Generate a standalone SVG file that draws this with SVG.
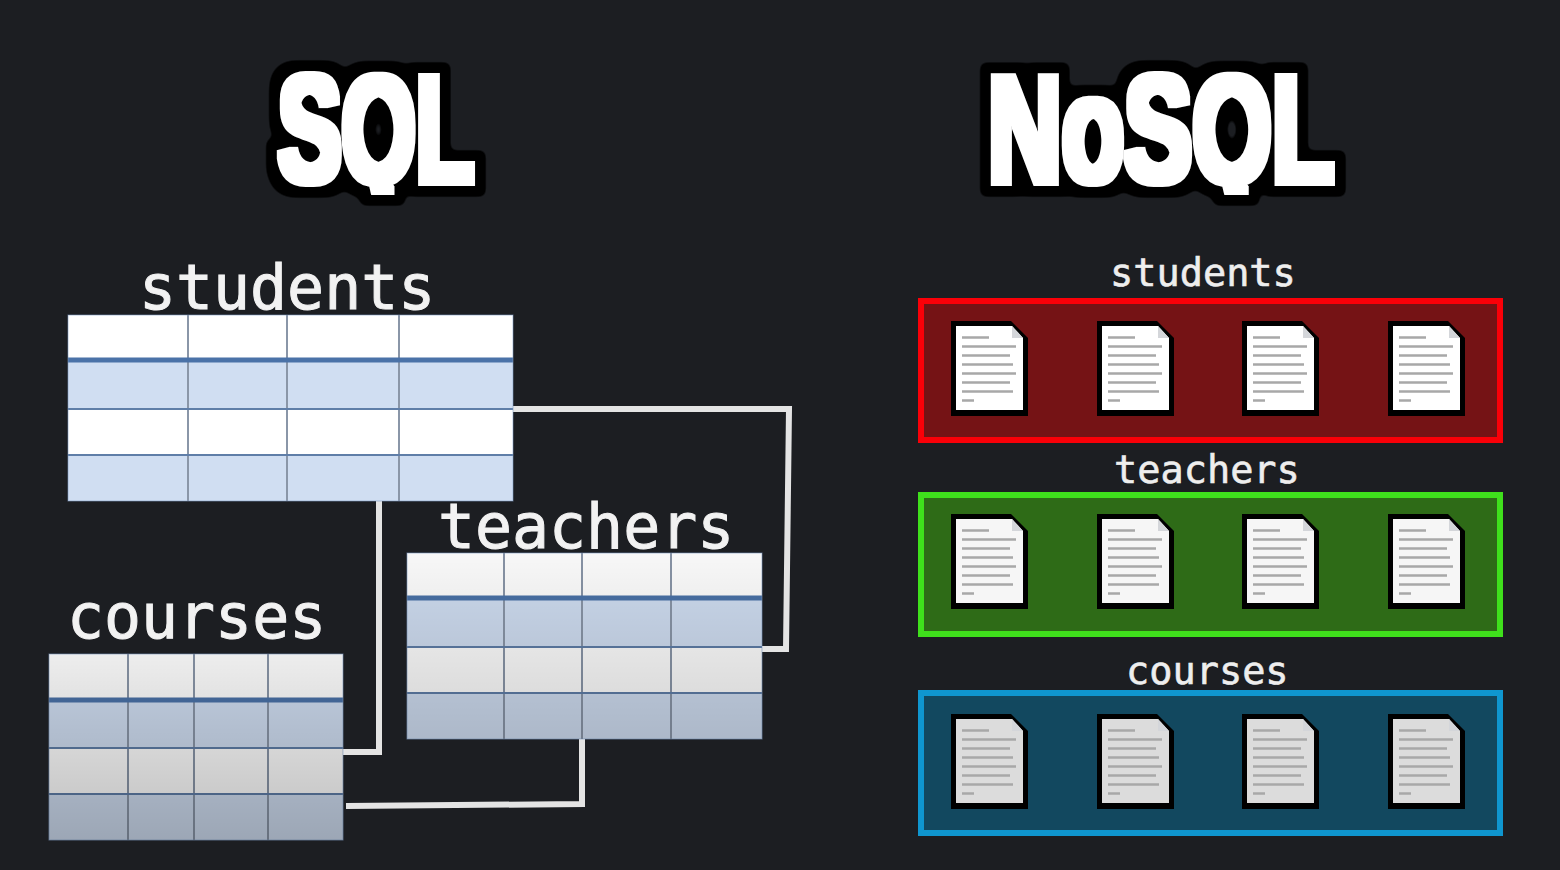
<svg xmlns="http://www.w3.org/2000/svg" xmlns:xlink="http://www.w3.org/1999/xlink" width="1560" height="870" viewBox="0 0 1560 870">
<style>
.title{font-family:"Liberation Sans Narrow","Liberation Sans",sans-serif;font-weight:700;font-size:152px;fill:#fff;clip-path:url(#tail)}
.titlegroup{filter:url(#outline)}
.big{font-family:"DejaVu Sans Mono","Liberation Mono",monospace;font-size:61.500px;fill:#f2f2f2;stroke:#f2f2f2;stroke-width:1}
.small{font-family:"DejaVu Sans Mono","Liberation Mono",monospace;font-size:38.600px;fill:#eee;stroke:#eee;stroke-width:.6}
.wire{fill:none;stroke:#e4e4e4;stroke-width:6}
.edge{fill:none;stroke:#7f9cc6;stroke-width:1;stroke-opacity:.6}
.thick{stroke:#4a72a8;stroke-width:5}
.thin{stroke:#5f7ea8;stroke-width:2}
.vline{stroke:#8a96a8;stroke-width:2}
.line{stroke:#a8a8a8;stroke-width:2.500}
</style>
<defs>
<clipPath id="tail" clipPathUnits="userSpaceOnUse"><rect x="0" y="0" width="1560" height="191"/></clipPath>
<filter id="outline" filterUnits="userSpaceOnUse" x="220" y="20" width="1180" height="220" color-interpolation-filters="sRGB">
<feMorphology in="SourceAlpha" operator="dilate" radius="4" result="fat"/>
<feMorphology in="SourceAlpha" operator="dilate" radius="14" result="wide"/>
<feGaussianBlur in="wide" stdDeviation="3.500"/>
<feComponentTransfer result="soft"><feFuncA type="linear" slope="6" intercept="-2"/></feComponentTransfer>
<feFlood flood-color="#000"/><feComposite in2="soft" operator="in" result="black"/>
<feFlood flood-color="#fff"/><feComposite in2="fat" operator="in" result="white"/>
<feMerge><feMergeNode in="black"/><feMergeNode in="white"/></feMerge>
</filter>
<linearGradient id="tdim" x1="0" y1="0" x2="0" y2="1"><stop offset="0" stop-color="#000" stop-opacity=".03"/><stop offset="1" stop-color="#000" stop-opacity=".17"/></linearGradient>
<linearGradient id="cdim" x1="0" y1="0" x2="0" y2="1"><stop offset="0" stop-color="#000" stop-opacity=".07"/><stop offset="1" stop-color="#000" stop-opacity=".25"/></linearGradient>
<g id="doc">
<path d="M951 321H1011L1028 338V416H951Z" fill="#000"/>
<path d="M956 326H1012L1023 338V410H956Z"/>
<path d="M1012 326L1023 338H1012Z" fill="#d4d6da"/>
<path class="line" d="M962 337.500H989M962 346.500H1016M962 355.500H1010M962 364.500H1013M962 373.500H1016M962 382.500H1010M962 391.500H1013M962 400.500H974"/>
</g>
</defs>
<rect width="1560" height="870" fill="#1c1e22"/>

<g id="title-sql" class="titlegroup"><text class="title" x="278" y="182" textLength="196" lengthAdjust="spacingAndGlyphs">SQL</text></g>
<g id="title-nosql" class="titlegroup"><text class="title" x="988" y="182" textLength="346" lengthAdjust="spacingAndGlyphs">NoSQL</text></g>

<g id="connectors">
<path class="wire" d="M513 409H789L786 649H762"/>
<path class="wire" d="M379 501V752H343"/>
<path class="wire" d="M582 739V804L346 806"/>
</g>

<g id="table-students">
<text class="big" x="139" y="309">students</text>
<rect x="68" y="315" width="445" height="45" fill="#fff"/>
<rect x="68" y="360" width="445" height="49" fill="#d0def2"/>
<rect x="68" y="409" width="445" height="46" fill="#fff"/>
<rect x="68" y="455" width="445" height="46" fill="#d0def2"/>
<path class="vline" d="M188 315V501M287 315V501M399 315V501"/>
<path class="thick" d="M68 360H513"/>
<path class="thin" d="M68 409H513M68 455H513"/>
<rect class="edge" x="68" y="315" width="445" height="186"/>
</g>

<g id="table-teachers">
<text class="big" x="438" y="548">teachers</text>
<rect x="407" y="553" width="355" height="45" fill="#fff"/>
<rect x="407" y="598" width="355" height="49" fill="#d0def2"/>
<rect x="407" y="647" width="355" height="46" fill="#fff"/>
<rect x="407" y="693" width="355" height="46" fill="#d0def2"/>
<path class="vline" d="M504 553V739M582 553V739M671 553V739"/>
<path class="thick" d="M407 598H762"/>
<path class="thin" d="M407 647H762M407 693H762"/>
<rect class="edge" x="407" y="553" width="355" height="186"/>
<rect x="407" y="553" width="355" height="186" fill="url(#tdim)"/>
</g>

<g id="table-courses">
<text class="big" x="67" y="638">courses</text>
<rect x="49" y="654" width="294" height="46" fill="#fff"/>
<rect x="49" y="700" width="294" height="48" fill="#d0def2"/>
<rect x="49" y="748" width="294" height="46" fill="#fff"/>
<rect x="49" y="794" width="294" height="46" fill="#d0def2"/>
<path class="vline" d="M128 654V840M194 654V840M268 654V840"/>
<path class="thick" d="M49 700H343"/>
<path class="thin" d="M49 748H343M49 794H343"/>
<rect class="edge" x="49" y="654" width="294" height="186"/>
<rect x="49" y="654" width="294" height="186" fill="url(#cdim)"/>
</g>

<g id="collection-students">
<text class="small" x="1110" y="286">students</text>
<rect x="921" y="301" width="579" height="139" fill="#751315" stroke="#fa0008" stroke-width="6"/>
<use xlink:href="#doc" href="#doc" fill="#fff"/>
<use xlink:href="#doc" href="#doc" fill="#fff" x="146"/>
<use xlink:href="#doc" href="#doc" fill="#fff" x="291"/>
<use xlink:href="#doc" href="#doc" fill="#fff" x="437"/>
</g>

<g id="collection-teachers">
<text class="small" x="1114" y="483">teachers</text>
<rect x="921" y="495" width="579" height="139" fill="#2e6b17" stroke="#3fe01c" stroke-width="6"/>
<use xlink:href="#doc" href="#doc" fill="#f6f6f6" y="193"/>
<use xlink:href="#doc" href="#doc" fill="#f6f6f6" x="146" y="193"/>
<use xlink:href="#doc" href="#doc" fill="#f6f6f6" x="291" y="193"/>
<use xlink:href="#doc" href="#doc" fill="#f6f6f6" x="437" y="193"/>
</g>

<g id="collection-courses">
<text class="small" x="1126" y="684">courses</text>
<rect x="921" y="693" width="579" height="140" fill="#12485f" stroke="#0f96cf" stroke-width="6"/>
<use xlink:href="#doc" href="#doc" fill="#dcdcdc" y="393"/>
<use xlink:href="#doc" href="#doc" fill="#dcdcdc" x="146" y="393"/>
<use xlink:href="#doc" href="#doc" fill="#dcdcdc" x="291" y="393"/>
<use xlink:href="#doc" href="#doc" fill="#dcdcdc" x="437" y="393"/>
</g>
</svg>
